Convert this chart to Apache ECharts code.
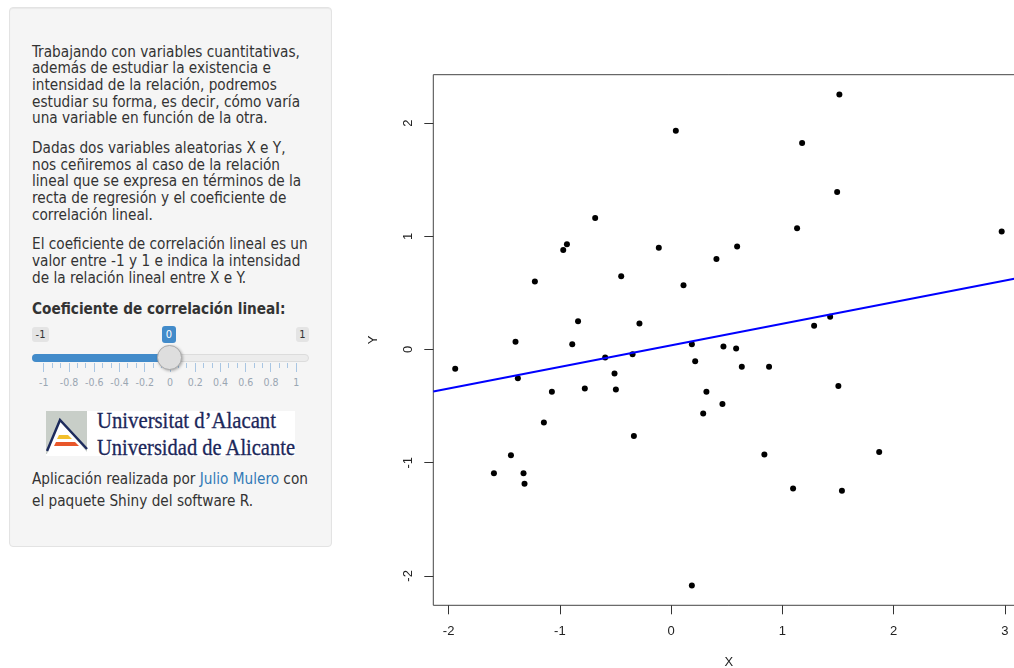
<!DOCTYPE html>
<html>
<head>
<meta charset="utf-8">
<script src="https://cdn.jsdelivr.net/npm/echarts@6/dist/echarts.min.js"></script>
<style>
html, body { margin:0; padding:0; width:1014px; height:668px; overflow:hidden; background:#fff; }
#panel { position:absolute; left:9px; top:7px; width:321px; height:538px; background:#f5f5f5;
  border:1px solid #e3e3e3; border-radius:4px; box-shadow:inset 0 1px 1px rgba(0,0,0,.05); }
.txt { position:absolute; left:32px; font-family:"DejaVu Sans Condensed","DejaVu Sans",sans-serif;
  font-size:15.2px; line-height:16.7px; color:#333; white-space:nowrap; }
.lbl { position:absolute; font-family:"DejaVu Sans Condensed","DejaVu Sans",sans-serif; font-size:11px;
  line-height:15px; text-align:center; border-radius:3px; }
.tk { position:absolute; width:1px; background:#a9c6e3; }
.tl { position:absolute; width:30px; margin-left:-15px; text-align:center; top:376px;
  font-family:"DejaVu Sans Condensed","DejaVu Sans",sans-serif; font-size:10.5px; color:#9aa6b2; }
#main { position:absolute; left:360px; top:0; width:680px; height:668px; }
a { color:#337ab7; text-decoration:none; }
</style>
</head>
<body>
<div id="panel"></div>
<div class="txt" style="top:43.5px">Trabajando con variables cuantitativas,<br>además de estudiar la existencia e<br>intensidad de la relación, podremos<br>estudiar su forma, es decir, cómo varía<br>una variable en función de la otra.</div>
<div class="txt" style="top:139.8px">Dadas dos variables aleatorias X e Y,<br>nos ceñiremos al caso de la relación<br>lineal que se expresa en términos de la<br>recta de regresión y el coeficiente de<br>correlación lineal.</div>
<div class="txt" style="top:236.3px">El coeficiente de correlación lineal es un<br>valor entre -1 y 1 e indica la intensidad<br>de la relación lineal entre X e Y.</div>
<div class="txt" style="top:301.3px;font-weight:bold">Coeficiente de correlación lineal:</div>

<!-- slider -->
<div class="lbl" style="left:32px;top:327px;width:17px;background:#e4e4e4;color:#333">-1</div>
<div class="lbl" style="left:162px;top:326px;width:14px;height:17px;line-height:17px;background:#428bca;color:#fff">0</div>
<div class="lbl" style="left:296px;top:327px;width:13px;background:#e4e4e4;color:#333">1</div>
<div style="position:absolute;left:32px;top:354px;width:277px;height:8px;border-radius:4px;background:#ececec;border:1px solid #dcdcdc;box-sizing:border-box"></div>
<div style="position:absolute;left:32px;top:354px;width:140px;height:8px;border-radius:4px 0 0 4px;background:#428bca"></div>
<div id="ticks"></div>
<div style="position:absolute;left:156.5px;top:345px;width:25px;height:25px;border-radius:50%;background:#dedede;border:1px solid #ababab;box-sizing:border-box;box-shadow:1px 1px 3px rgba(0,0,0,.3)"></div>

<!-- logo -->
<svg style="position:absolute;left:46px;top:411px" width="249" height="45" viewBox="0 0 249 45">
  <rect x="0" y="0" width="249" height="45" fill="#fff"/>
  <rect x="0" y="0" width="41" height="43" fill="#c8cec8"/>
  <polygon points="1,43 14,9 41,41 41,43" fill="#fff"/>
  <polygon points="11,28 13,24 22,24 26,28" fill="#f2bf2c"/>
  <polygon points="8,35 10,31 29,31 33,35" fill="#e8562a"/>
  <polyline points="1,40 14,9 41,38" fill="none" stroke="#1d2b5c" stroke-width="2.5"/>
  <text x="51" y="17.3" textLength="179" lengthAdjust="spacingAndGlyphs" font-family="Liberation Serif, DejaVu Serif, serif" font-size="22.5" fill="#1c275a" stroke="#1c275a" stroke-width="0.3">Universitat d’Alacant</text>
  <text x="51" y="44" textLength="198" lengthAdjust="spacingAndGlyphs" font-family="Liberation Serif, DejaVu Serif, serif" font-size="22.5" fill="#1c275a" stroke="#1c275a" stroke-width="0.3">Universidad de Alicante</text>
</svg>

<div class="txt" style="top:469px;line-height:21.7px">Aplicación realizada por <a>Julio Mulero</a> con<br>el paquete Shiny del software R.</div>

<div id="main"></div>
<script>
// slider grid ticks
var sliderTicks = [-1, -0.8, -0.6, -0.4, -0.2, 0, 0.2, 0.4, 0.6, 0.8, 1];
var tickHtml = '';
sliderTicks.forEach(function (v, i) {
  var x = 43.3 + (v + 1) / 2 * 252.4;
  tickHtml += '<div class="tk" style="left:' + x + 'px;top:363px;height:9px"></div>';
  tickHtml += '<div class="tl" style="left:' + (x + 0.5) + 'px">' + v + '</div>';
  if (i < sliderTicks.length - 1) {
    for (var k = 1; k < 3; k++) {
      tickHtml += '<div class="tk" style="left:' + (x + k * 8.41) + 'px;top:363px;height:5px"></div>';
    }
  }
});
document.getElementById('ticks').innerHTML = tickHtml;

// datos del diagrama de dispersión
var xVals = [0.042, -0.683, -0.937, -0.970, -0.111, -1.225, -0.449, 0.111, -0.837, -0.285,
  -1.399, -0.889, 0.186, 1.512, 1.177, 1.492, 1.132, 2.971, 0.593, 0.407,
  1.429, 1.285, 0.470, 0.584, -1.941, -0.593, -0.347, 0.216, -1.378, -0.509,
  -1.072, -0.776, -0.497, -1.144, -0.335, -1.440, -1.593, -1.327, -1.318, 0.186,
  0.635, 0.880, 1.503, 0.317, 0.461, 0.288, 0.838, 1.870, 1.096, 1.535];
var yVals = [1.933, 1.162, 0.930, 0.880, 0.900, 0.600, 0.648, 0.568, 0.250, 0.230,
  0.068, 0.047, 0.047, 2.254, 1.824, 1.392, 1.071, 1.042, 0.909, 0.800,
  0.289, 0.209, 0.027, 0.009, -0.170, -0.071, -0.041, -0.103, -0.253, -0.212,
  -0.373, -0.344, -0.353, -0.644, -0.765, -0.935, -1.094, -1.094, -1.185, -2.086,
  -0.153, -0.153, -0.323, -0.373, -0.482, -0.565, -0.927, -0.906, -1.227, -1.247];
// recta de regresión (extremos)
var regX = [-2.138, 3.177];
var regY = [-0.371, 0.642];
var xLim = [-2.138, 3.177];
var yLim = [-2.26, 2.428];
var xTicks = [-2, -1, 0, 1, 2, 3];
var yTicks = [-2, -1, 0, 1, 2];

var points = xVals.map(function (x, i) { return [x, yVals[i]]; });
var regLine = regX.map(function (x, i) { return [x, regY[i]]; });

var myChart = echarts.init(document.getElementById('main'));
var axisFont = { fontFamily: 'Liberation Sans, Arial, sans-serif', fontSize: 13, color: '#222' };
myChart.setOption({
  animation: false,
  grid: {
    left: 73.3, right: 15.4, top: 74.7, bottom: 62.7,
    outerBoundsMode: 'none', containLabel: false,
    show: true, borderColor: '#444', borderWidth: 1, backgroundColor: 'transparent'
  },
  xAxis: {
    type: 'value', min: xLim[0], max: xLim[1],
    name: 'X', nameLocation: 'middle', nameGap: 51,
    nameTextStyle: axisFont,
    axisLine: { show: false, onZero: false },
    splitLine: { show: false },
    axisTick: { show: true, length: 9, customValues: xTicks, lineStyle: { color: '#333' } },
    axisLabel: Object.assign({ margin: 19.5, customValues: xTicks }, axisFont)
  },
  yAxis: {
    type: 'value', min: yLim[0], max: yLim[1],
    name: 'Y', nameLocation: 'middle', nameGap: 53,
    nameTextStyle: axisFont,
    axisLine: { show: false, onZero: false },
    splitLine: { show: false },
    axisTick: { show: true, length: 9, customValues: yTicks, lineStyle: { color: '#333' } },
    axisLabel: Object.assign({ margin: 18.5, rotate: 90, customValues: yTicks }, axisFont)
  },
  series: [{
    type: 'scatter',
    data: points,
    symbolSize: 6,
    itemStyle: { color: '#000', opacity: 1 }
  }, {
    type: 'line',
    data: regLine,
    symbol: 'none',
    z: 3,
    lineStyle: { color: '#0000ff', width: 2 }
  }]
});
</script>
</body>
</html>
